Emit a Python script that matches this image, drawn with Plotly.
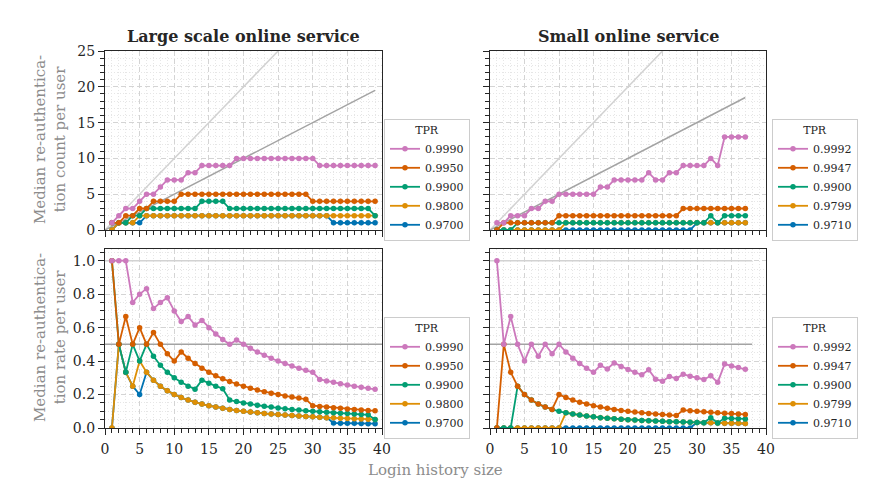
import plotly.graph_objects as go

# ---------------- data ----------------
hist_large = list(range(1, 40))   # login history size, large scale service
hist_small = list(range(1, 38))   # login history size, small service

tpr_large = ["0.9990", "0.9950", "0.9900", "0.9800", "0.9700"]
tpr_small = ["0.9992", "0.9947", "0.9900", "0.9799", "0.9710"]
colors = ["#CC78BC", "#D55E00", "#029E73", "#DE8F05", "#0173B2"]

# median re-authentication count per user (large scale service)
cnt_large_0 = [1, 2, 3, 3, 4, 5, 5, 6, 7, 7, 7, 8, 8, 9, 9, 9, 9, 9,
               10, 10, 10, 10, 10, 10, 10, 10, 10, 10, 10, 10,
               9, 9, 9, 9, 9, 9, 9, 9, 9]
cnt_large_1 = [1, 1, 2, 2, 3, 3, 4, 4, 4, 4,
               5, 5, 5, 5, 5, 5, 5, 5, 5, 5, 5, 5, 5, 5, 5, 5, 5, 5, 5,
               4, 4, 4, 4, 4, 4, 4, 4, 4, 4]
cnt_large_2 = [1, 1, 1, 2, 2, 3, 3, 3, 3, 3, 3, 3, 3, 4, 4, 4, 4,
               3, 3, 3, 3, 3, 3, 3, 3, 3, 3, 3, 3, 3, 3, 3, 3, 3, 3, 3, 3, 3, 2]
cnt_large_3 = [0, 1, 1, 1] + [2] * 35
cnt_large_4 = [0, 1, 1, 1, 1] + [2] * 27 + [1] * 7

# median re-authentication count per user (small service)
cnt_small_0 = [1, 1, 2, 2, 2, 3, 3, 4, 4, 5, 5, 5, 5, 5, 5, 6, 6, 7, 7, 7, 7, 7,
               8, 7, 7, 8, 8, 9, 9, 9, 9, 10, 9, 13, 13, 13, 13]
cnt_small_1 = [0] + [1] * 8 + [2] * 18 + [3] * 10
cnt_small_2 = [0, 0, 0] + [1] * 28 + [2, 1, 2, 2, 2, 2]
cnt_small_3 = [0] * 10 + [1] * 27
cnt_small_4 = [0] * 29 + [1] * 8

# median re-authentication rate per user (large scale service)
rate_large_0 = [1.0, 1.0, 1.0, 0.75, 0.8, 0.833, 0.714, 0.75, 0.778, 0.7, 0.636, 0.667,
                0.615, 0.643, 0.6, 0.562, 0.529, 0.5, 0.526, 0.5, 0.476, 0.455, 0.435,
                0.417, 0.4, 0.385, 0.370, 0.357, 0.345, 0.333, 0.290, 0.281, 0.273,
                0.265, 0.257, 0.25, 0.243, 0.237, 0.231]
rate_large_1 = [1.0, 0.5, 0.667, 0.5, 0.6, 0.5, 0.571, 0.5, 0.444, 0.4, 0.455, 0.417,
                0.385, 0.357, 0.333, 0.312, 0.294, 0.278, 0.263, 0.25, 0.238, 0.227,
                0.217, 0.208, 0.2, 0.192, 0.185, 0.179, 0.172, 0.133, 0.129, 0.125,
                0.121, 0.118, 0.114, 0.111, 0.108, 0.105, 0.103]
rate_large_2 = [1.0, 0.5, 0.333, 0.5, 0.4, 0.5, 0.429, 0.375, 0.333, 0.3, 0.273, 0.25,
                0.231, 0.286, 0.267, 0.25, 0.235, 0.167, 0.158, 0.15, 0.143, 0.136,
                0.130, 0.125, 0.12, 0.115, 0.111, 0.107, 0.103, 0.1, 0.097, 0.094,
                0.091, 0.088, 0.086, 0.083, 0.081, 0.079, 0.051]
rate_large_3 = [0.0, 0.5, 0.333, 0.25, 0.4, 0.333, 0.286, 0.25, 0.222, 0.2, 0.182, 0.167,
                0.154, 0.143, 0.133, 0.125, 0.118, 0.111, 0.105, 0.1, 0.095, 0.091,
                0.087, 0.083, 0.08, 0.077, 0.074, 0.071, 0.069, 0.067, 0.065, 0.062,
                0.061, 0.059, 0.057, 0.056, 0.054, 0.053, 0.051]
rate_large_4 = [0.0, 0.5, 0.333, 0.25, 0.2, 0.333, 0.286, 0.25, 0.222, 0.2, 0.182, 0.167,
                0.154, 0.143, 0.133, 0.125, 0.118, 0.111, 0.105, 0.1, 0.095, 0.091,
                0.087, 0.083, 0.08, 0.077, 0.074, 0.071, 0.069, 0.067, 0.065, 0.062,
                0.030, 0.029, 0.029, 0.028, 0.027, 0.026, 0.026]

# median re-authentication rate per user (small service)
rate_small_0 = [1.0, 0.5, 0.667, 0.5, 0.4, 0.5, 0.429, 0.5, 0.444, 0.5, 0.455, 0.417,
                0.385, 0.357, 0.333, 0.375, 0.353, 0.389, 0.368, 0.35, 0.333, 0.318,
                0.348, 0.292, 0.28, 0.308, 0.296, 0.321, 0.310, 0.3, 0.290, 0.312,
                0.273, 0.382, 0.371, 0.361, 0.351]
rate_small_1 = [0.0, 0.5, 0.333, 0.25, 0.2, 0.167, 0.143, 0.125, 0.111, 0.2, 0.182, 0.167,
                0.154, 0.143, 0.133, 0.125, 0.118, 0.111, 0.105, 0.1, 0.095, 0.091,
                0.087, 0.083, 0.08, 0.077, 0.074, 0.107, 0.103, 0.1, 0.097, 0.094,
                0.091, 0.088, 0.086, 0.083, 0.081]
rate_small_2 = [0.0, 0.0, 0.0, 0.25, 0.2, 0.167, 0.143, 0.125, 0.111, 0.1, 0.091, 0.083,
                0.077, 0.071, 0.067, 0.062, 0.059, 0.056, 0.053, 0.05, 0.048, 0.045,
                0.043, 0.042, 0.04, 0.038, 0.037, 0.036, 0.034, 0.033, 0.032, 0.062,
                0.030, 0.059, 0.057, 0.056, 0.054]
rate_small_3 = [0.0] * 10 + [0.091, 0.083, 0.077, 0.071, 0.067, 0.062, 0.059, 0.056,
                             0.053, 0.05, 0.048, 0.045, 0.043, 0.042, 0.04, 0.038, 0.037,
                             0.036, 0.034, 0.033, 0.032, 0.031, 0.030, 0.029, 0.029,
                             0.028, 0.027]
rate_small_4 = [0.0] * 29 + [0.033, 0.032, 0.031, 0.030, 0.029, 0.029, 0.028, 0.027]

ref_rates = [1.0, 0.5]
ref_colors = ["#d2d2d2", "#a3a3a3"]

titles = ["Large scale online service", "Small online service"]
ylabels = ["Median re-authentica-<br>tion count per user",
           "Median re-authentica-<br>tion rate per user"]
xlabel = "Login history size"

# ---------------- figure ----------------
W, H = 879, 501
FONT = "DejaVu Serif"
TXT = "#262626"
LABEL_GRAY = "#8c8c8c"

def px_x(p):
    return p / W

def px_y(p):
    return (H - p) / H

panels = [
    ("x", "y", hist_large, [cnt_large_0, cnt_large_1, cnt_large_2, cnt_large_3, cnt_large_4],
     tpr_large, "legend", "top"),
    ("x2", "y2", hist_small, [cnt_small_0, cnt_small_1, cnt_small_2, cnt_small_3, cnt_small_4],
     tpr_small, "legend2", "top"),
    ("x3", "y3", hist_large, [rate_large_0, rate_large_1, rate_large_2, rate_large_3, rate_large_4],
     tpr_large, "legend3", "bottom"),
    ("x4", "y4", hist_small, [rate_small_0, rate_small_1, rate_small_2, rate_small_3, rate_small_4],
     tpr_small, "legend4", "bottom"),
]

fig = go.Figure()

for xa, ya, xs, series, labels, leg, kind in panels:
    xmax = xs[-1]
    for r, c in zip(ref_rates, ref_colors):
        if kind == "top":
            rx, ry = [0, xmax], [0, r * xmax]
        else:
            rx, ry = [0, xmax + 1], [r, r]
        fig.add_trace(go.Scatter(x=rx, y=ry, mode="lines", xaxis=xa, yaxis=ya,
                                 line=dict(color=c, width=1.5), showlegend=False,
                                 hoverinfo="skip"))
    for i in reversed(range(5)):
        fig.add_trace(go.Scatter(x=xs, y=series[i], mode="lines+markers",
                                 xaxis=xa, yaxis=ya, name=labels[i], legend=leg,
                                 line=dict(color=colors[i], width=1.8),
                                 marker=dict(color=colors[i], size=5.5),
                                 showlegend=True))

xdom_l = [px_x(105), px_x(382)]
xdom_r = [px_x(490), px_x(766)]
ydom_t = [px_y(230), px_y(51)]
ydom_b = [px_y(428), px_y(249)]

common_axis = dict(ticks="outside", ticklen=6, tickwidth=1, tickcolor=TXT,
                   showline=True, linecolor=TXT, linewidth=1.3, mirror=True,
                   showgrid=True, gridcolor="#d4d4d4", griddash="5px,3px", gridwidth=1,
                   zeroline=False, automargin=False,
                   tickfont=dict(family=FONT, size=14, color=TXT))

def xaxis(dom, anchor, labels):
    return dict(common_axis, domain=dom, anchor=anchor, range=[0, 40], tick0=0, dtick=5,
                showticklabels=labels, ticklabelstandoff=2,
                minor=dict(dtick=1, ticks="outside", ticklen=3.5, tickcolor=TXT,
                           showgrid=True, gridcolor="#e6e6e6", griddash="1px,2px",
                           gridwidth=1))

def yaxis(dom, anchor, rng, dtick, mdtick, labels, fmt):
    return dict(common_axis, domain=dom, anchor=anchor, range=rng, tick0=0, dtick=dtick,
                showticklabels=labels, tickformat=fmt,
                minor=dict(dtick=mdtick, ticks="outside", ticklen=3.5, tickcolor=TXT,
                           showgrid=True, gridcolor="#e6e6e6", griddash="1px,2px",
                           gridwidth=1))

legend_common = dict(bgcolor="white", bordercolor="#cccccc", borderwidth=1,
                     font=dict(family=FONT, size=11, color=TXT),
                     traceorder="reversed", xanchor="left", yanchor="middle",
                     itemwidth=30, tracegroupgap=0,
                     title=dict(text="TPR", side="top center",
                                font=dict(family=FONT, size=11, color=TXT)))

def ann(text, x, y, size, color, angle=0, bold=False):
    f = dict(family=FONT, size=size, color=color)
    if bold:
        f["weight"] = "bold"
    return dict(text=text, x=x, y=y, xref="paper", yref="paper", showarrow=False,
                xanchor="center", yanchor="middle", textangle=angle, font=f)

fig.update_layout(
    width=W, height=H,
    margin=dict(l=0, r=0, t=0, b=0, autoexpand=False),
    paper_bgcolor="white", plot_bgcolor="white",
    font=dict(family=FONT, color=TXT),
    xaxis=xaxis(xdom_l, "y", False),
    xaxis2=xaxis(xdom_r, "y2", False),
    xaxis3=xaxis(xdom_l, "y3", True),
    xaxis4=xaxis(xdom_r, "y4", True),
    yaxis=yaxis(ydom_t, "x", [0, 25], 5, 1, True, "d"),
    yaxis2=yaxis(ydom_t, "x2", [0, 25], 5, 1, False, "d"),
    yaxis3=yaxis(ydom_b, "x3", [0, 1.07], 0.2, 0.05, True, ".1f"),
    yaxis4=yaxis(ydom_b, "x4", [0, 1.07], 0.2, 0.05, False, ".1f"),
    legend=dict(legend_common, x=px_x(384), y=px_y(180)),
    legend2=dict(legend_common, x=px_x(772), y=px_y(180)),
    legend3=dict(legend_common, x=px_x(384), y=px_y(378)),
    legend4=dict(legend_common, x=px_x(772), y=px_y(378)),
    showlegend=True,
    annotations=[
        ann(titles[0], (xdom_l[0] + xdom_l[1]) / 2, px_y(37), 16, TXT, bold=True),
        ann(titles[1], (xdom_r[0] + xdom_r[1]) / 2, px_y(37), 16, TXT, bold=True),
        ann(xlabel, (xdom_l[0] + xdom_r[1]) / 2, px_y(470), 15, LABEL_GRAY),
        ann(ylabels[0], px_x(50), px_y(140), 15, LABEL_GRAY, angle=-90),
        ann(ylabels[1], px_x(50), px_y(338), 15, LABEL_GRAY, angle=-90),
    ],
)

fig.write_html("out.html")
